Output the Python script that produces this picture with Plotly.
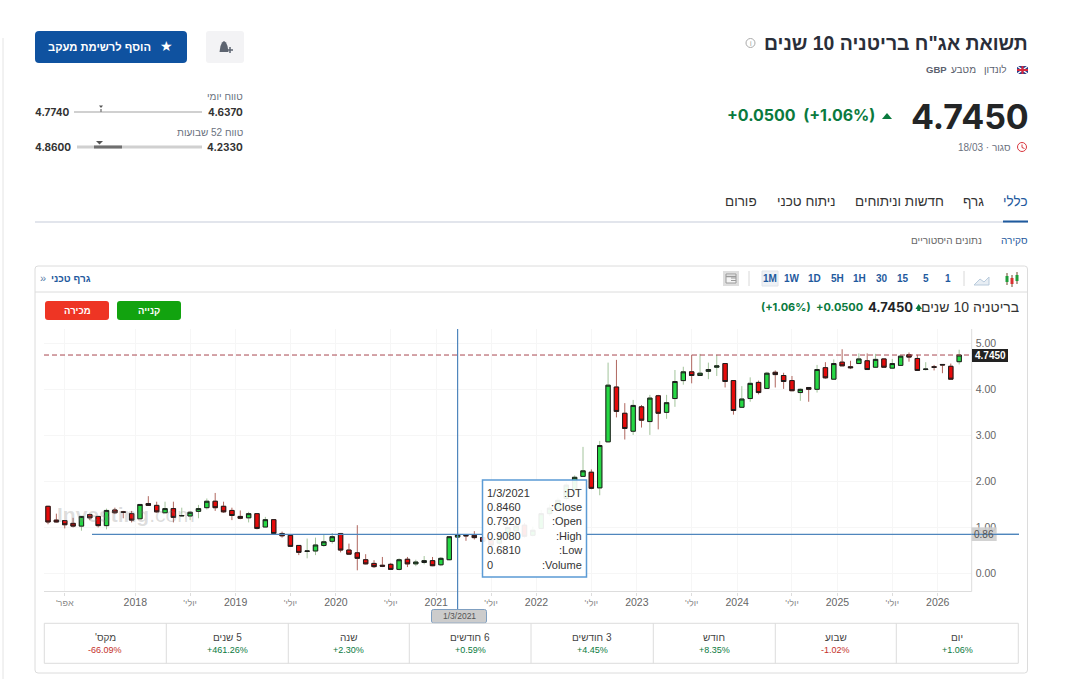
import plotly.graph_objects as go

W, H = 1091, 679
SANS = "Liberation Sans"
INTER = "Inter"
GREEN = "#0a7a3e"
RED = "#c4302b"
BLUE = "#1f5a9e"
GREY = "#666666"
BORDER = "#dcdcdc"
CROSS = "#4f86bd"

# monthly candles, Feb 2017 to Mar 2026
opens = [1.46, 1.16, 1.15, 1.09, 1.03, 1.28, 1.24, 1.04, 1.38, 1.34, 1.30, 1.19,
         1.52, 1.48, 1.32, 1.41, 1.25, 1.25, 1.35, 1.43, 1.57, 1.46, 1.37, 1.24,
         1.21, 1.30, 1.01, 1.17, 0.87, 0.83, 0.61, 0.48, 0.49, 0.61, 0.70, 0.87,
         0.51, 0.45, 0.30, 0.22, 0.18, 0.20, 0.09, 0.31, 0.21, 0.24, 0.28, 0.19,
         0.30, 0.792, 0.83, 0.83, 0.78, 0.72, 0.66, 0.83, 0.93, 1.05, 0.83, 0.98,
         1.30, 1.41, 1.63, 1.81, 2.11, 2.20, 1.86, 2.86, 4.05, 3.48, 3.09, 3.62,
         3.30, 3.86, 3.50, 3.80, 4.19, 4.38, 4.30, 4.39, 4.48, 4.56, 4.19, 3.61,
         3.80, 4.15, 4.02, 4.37, 4.30, 4.19, 3.93, 4.04, 4.00, 4.47, 4.22, 4.59,
         4.49, 4.56, 4.62, 4.48, 4.66, 4.46, 4.52, 4.75, 4.67, 4.43, 4.49, 4.54,
         4.50, 4.60]
closes = [1.12, 1.12, 1.06, 1.03, 1.24, 1.21, 1.04, 1.37, 1.32, 1.33, 1.16, 1.50,
          1.48, 1.34, 1.41, 1.22, 1.26, 1.33, 1.41, 1.57, 1.43, 1.34, 1.26, 1.20,
          1.30, 0.98, 1.17, 0.87, 0.82, 0.59, 0.46, 0.49, 0.62, 0.69, 0.80, 0.51,
          0.42, 0.33, 0.21, 0.15, 0.16, 0.09, 0.30, 0.21, 0.25, 0.28, 0.17, 0.33,
          0.80, 0.846, 0.82, 0.78, 0.70, 0.62, 0.80, 1.00, 1.03, 0.81, 0.94, 1.30,
          1.42, 1.59, 1.92, 2.09, 2.23, 1.85, 2.78, 4.09, 3.52, 3.15, 3.65, 3.33,
          3.81, 3.48, 3.71, 4.17, 4.38, 4.30, 4.35, 4.43, 4.51, 4.17, 3.54, 3.79,
          4.13, 3.93, 4.35, 4.32, 4.17, 3.97, 4.00, 4.00, 4.43, 4.25, 4.56, 4.51,
          4.47, 4.66, 4.43, 4.65, 4.48, 4.56, 4.72, 4.70, 4.41, 4.44, 4.48, 4.53,
          4.22, 4.745]
highs = [1.47, 1.30, 1.15, 1.21, 1.24, 1.30, 1.24, 1.41, 1.43, 1.36, 1.36, 1.50,
         1.68, 1.56, 1.56, 1.56, 1.43, 1.36, 1.49, 1.63, 1.75, 1.56, 1.43, 1.37,
         1.34, 1.30, 1.23, 1.18, 0.91, 0.85, 0.61, 0.76, 0.78, 0.85, 0.88, 0.88,
         0.65, 1.05, 0.42, 0.29, 0.36, 0.23, 0.33, 0.36, 0.30, 0.38, 0.36, 0.36,
         0.80, 0.908, 0.85, 0.92, 0.81, 0.78, 0.85, 1.05, 1.10, 1.10, 1.02, 1.38,
         1.50, 1.65, 1.98, 2.13, 2.75, 2.26, 2.88, 4.58, 4.64, 3.70, 3.77, 3.66,
         3.88, 3.88, 3.88, 4.42, 4.49, 4.75, 4.77, 4.58, 4.75, 4.56, 4.19, 4.07,
         4.26, 4.19, 4.38, 4.41, 4.36, 4.29, 4.02, 4.04, 4.53, 4.59, 4.65, 4.87,
         4.62, 4.78, 4.78, 4.77, 4.67, 4.66, 4.74, 4.80, 4.75, 4.59, 4.53, 4.54,
         4.56, 4.86]
lows = [1.07, 1.11, 0.98, 1.00, 0.93, 1.16, 1.00, 0.96, 1.29, 1.20, 1.11, 1.19,
        1.47, 1.32, 1.31, 1.11, 1.24, 1.16, 1.20, 1.39, 1.36, 1.32, 1.16, 1.18,
        1.11, 0.96, 1.01, 0.87, 0.78, 0.58, 0.40, 0.33, 0.40, 0.58, 0.65, 0.46,
        0.41, 0.07, 0.20, 0.12, 0.14, 0.09, 0.07, 0.14, 0.16, 0.20, 0.16, 0.16,
        0.29, 0.681, 0.71, 0.74, 0.65, 0.58, 0.62, 0.80, 0.85, 0.78, 0.80, 0.96,
        1.25, 1.38, 1.58, 1.75, 2.10, 1.83, 1.70, 2.85, 3.39, 2.91, 3.01, 3.17,
        3.01, 3.13, 3.36, 3.62, 4.10, 4.13, 4.30, 4.22, 4.29, 4.04, 3.45, 3.60,
        3.73, 3.89, 4.01, 4.04, 4.01, 3.96, 3.75, 3.73, 3.93, 4.23, 4.22, 4.51,
        4.44, 4.55, 4.43, 4.47, 4.47, 4.45, 4.51, 4.60, 4.40, 4.41, 4.41, 4.35,
        4.22, 4.54]

y_ticks = [0, 1, 2, 3, 4, 5]
year_labels = ["2018", "2019", "2020", "2021", "2022", "2023", "2024", "2025", "2026"]

change_labels = ["יום", "שבוע", "חודש", "\u200f3 חודשים", "\u200f6 חודשים", "שנה", "\u200f5 שנים", "\u200fמקס'\u200f"]
change_values = ["+1.06%", "-1.02%", "+8.35%", "+4.45%", "+0.59%", "+2.30%", "+461.26%", "-66.09%"]
change_edges = [1018.3, 896.3, 775.3, 653.3, 531, 409.3, 288.3, 166.3, 44.3]

intervals = ["1M", "1W", "1D", "5H", "1H", "30", "15", "5", "1"]
interval_x = [770, 792, 814, 837, 859, 882, 903, 926, 948]

tooltip_names = [":DT", ":Close", ":Open", ":High", ":Low", ":Volume"]
tooltip_values = ["1/3/2021", "0.8460", "0.7920", "0.9080", "0.6810", "0"]

idx = list(range(len(opens)))
cross_idx = 49
cross_value = 0.85
last_close = closes[-1]

# x ticks: july sits on its candle, the year label a bit before january's candle
MONTH_TICK = "<span style='font-size:9px;color:#888'>\u200f%s'\u200f</span>"
tick_vals = [2.0]
tick_text = [MONTH_TICK % "אפר"]
for k, year in enumerate(year_labels):
    tick_vals.append(10.44 + 12 * k)
    tick_text.append(year)
    if k < len(year_labels) - 1:
        tick_vals.append(17 + 12 * k)
        tick_text.append(MONTH_TICK % "יולי")


def px(x):
    return x / W


def py(y):
    return 1 - y / H


shapes = []
annotations = []


def rect(x0, y0, x1, y1, fill="rgba(0,0,0,0)", line=None, width=1, r=0):
    lc = line if line else "rgba(0,0,0,0)"
    if r == 0:
        shapes.append(dict(type="rect", xref="paper", yref="paper", x0=px(x0), x1=px(x1),
                           y0=py(y1), y1=py(y0), fillcolor=fill,
                           line=dict(color=lc, width=width), layer="above"))
        return
    p = (f"M {px(x0 + r)} {py(y0)} L {px(x1 - r)} {py(y0)} Q {px(x1)} {py(y0)} {px(x1)} {py(y0 + r)} "
         f"L {px(x1)} {py(y1 - r)} Q {px(x1)} {py(y1)} {px(x1 - r)} {py(y1)} "
         f"L {px(x0 + r)} {py(y1)} Q {px(x0)} {py(y1)} {px(x0)} {py(y1 - r)} "
         f"L {px(x0)} {py(y0 + r)} Q {px(x0)} {py(y0)} {px(x0 + r)} {py(y0)} Z")
    shapes.append(dict(type="path", xref="paper", yref="paper", path=p, fillcolor=fill,
                       line=dict(color=lc, width=width), layer="above"))


def line(x0, y0, x1, y1, color=BORDER, width=1, dash="solid"):
    shapes.append(dict(type="line", xref="paper", yref="paper", x0=px(x0), x1=px(x1),
                       y0=py(y0), y1=py(y1), line=dict(color=color, width=width, dash=dash),
                       layer="above"))


def poly(points, fill="rgba(0,0,0,0)", color=None, width=1, close=True):
    p = "M " + " L ".join(f"{px(a)} {py(b)}" for a, b in points)
    if close:
        p += " Z"
    shapes.append(dict(type="path", xref="paper", yref="paper", path=p, fillcolor=fill,
                       line=dict(color=color if color else "rgba(0,0,0,0)", width=width),
                       layer="above"))


def circle(cx, cy, r, color, fill="rgba(0,0,0,0)", width=1):
    shapes.append(dict(type="circle", xref="paper", yref="paper", x0=px(cx - r), x1=px(cx + r),
                       y0=py(cy + r), y1=py(cy - r), fillcolor=fill,
                       line=dict(color=color, width=width), layer="above"))


def label(x, y, text, size=10, color=GREY, anchor="center", bold=False, font=SANS):
    if bold:
        text = f"<b>{text}</b>"
    annotations.append(dict(xref="paper", yref="paper", x=px(x), y=py(y), text=text,
                            showarrow=False, xanchor=anchor, yanchor="middle", borderpad=0,
                            borderwidth=0, font=dict(family=font, size=size, color=color)))


# page header
line(3, 38, 3, 679, "#e4e4e4")
label(1028, 43, 'תשואת אג"ח בריטניה 10 שנים', 19.4, "#2a2e39", "right", True)
circle(750.5, 43, 4.5, "#aaaaaa")
label(750.5, 43, "i", 7, "#999999")
rect(1017, 66, 1028, 74, "#27408b")
poly([(1017, 66), (1028, 74)], color="#ffffff", width=1.5, close=False)
poly([(1017, 74), (1028, 66)], color="#ffffff", width=1.5, close=False)
line(1022.5, 66, 1022.5, 74, "#d8283c", 2)
line(1017, 70, 1028, 70, "#d8283c", 2)
label(1007, 70, "לונדון", 10, "#5b616e", "right")
label(976, 70, "מטבע", 10, "#5b616e", "right")
label(947, 70, "GBP", 9.5, "#5b616e", "right", True)
label(1028.5, 116, "4.7450", 34, "#232526", "right", True, INTER)
label(875, 114.5, "+0.0500&nbsp;&nbsp;(+1.06%)", 16, GREEN, "right", True, INTER)
poly([(882, 119), (892, 119), (887, 113)], GREEN)
label(1011, 147, "18/03 · סגור", 10, "#6b7280", "right")
circle(1022, 147, 4.5, "#d9363e")
poly([(1022, 144.5), (1022, 147.5), (1024.5, 148.5)], color="#d9363e", close=False)

rect(35, 31, 187, 63, "#0f52a0", r=4)
label(151, 47, "הוסף לרשימת מעקב", 11.2, "#ffffff", "right", True)
label(166, 46.5, "★", 14, "#ffffff", font="DejaVu Sans")
rect(206, 31, 244, 63, "#f3f3f5", r=3)
poly([(219.5, 52), (220.5, 46), (222, 42.5), (224, 41), (226, 42.5), (227.5, 46), (228.5, 52)], "#5d6470")
poly([(227, 50), (233, 50)], color="#5d6470", width=1.5, close=False)
poly([(230, 47), (230, 53)], color="#5d6470", width=1.5, close=False)

label(242.5, 97, "טווח יומי", 10, "#6b7280", "right")
label(35, 112, "4.7740", 10, "#333333", "left", True, INTER)
label(243, 112, "4.6370", 10, "#333333", "right", True, INTER)
line(74, 112, 202, 112, "#d0d0d0", 2)
poly([(99, 105.5), (103, 105.5), (101, 108)], "#555555")
line(101, 109, 101, 112, "#888888", 1.5)
label(242.5, 132.5, "טווח 52 שבועות", 10, "#6b7280", "right")
label(35, 147, "4.8600", 10, "#333333", "left", True, INTER)
label(243, 147, "4.2330", 10, "#333333", "right", True, INTER)
line(77, 147, 202, 147, "#d0d0d0", 3)
line(94, 147, 122, 147, "#6f6f6f", 3)
poly([(96, 141), (103, 141), (99.5, 144.5)], "#555555")

# tabs
tab_names = ["כללי", "גרף", "חדשות וניתוחים", "ניתוח טכני", "פורום"]
tab_right = [1028, 984, 944, 836, 757]
for name, x in zip(tab_names, tab_right):
    label(x, 201, name, 13.5, BLUE if name == "כללי" else "#333333", "right")
line(35, 222, 1028, 222, "#d8dde6", 1.5)
line(1003, 221.5, 1028, 221.5, BLUE, 2)
label(1028, 240, "סקירה", 10, BLUE, "right")
label(982, 240, "נתונים היסטוריים", 10, GREY, "right")

# chart card and toolbar
rect(35, 266, 1027.5, 673, line=BORDER, r=3)
line(35, 292, 1027.5, 292, BORDER)
label(91, 278, "גרף טכני", 10, BLUE, "right", True)
label(43, 278, "»", 11, "#5b7ea8")
rect(723, 271, 739, 286, "#dedede")
rect(726, 274, 736, 283, "#f4f4f4", "#9a9a9a")
line(726, 276.5, 736, 276.5, "#9a9a9a", 1.5)
line(731, 278, 736, 278, "#9a9a9a")
line(731, 280.5, 736, 280.5, "#9a9a9a")
line(749, 271, 749, 286, "#d8d8d8")
rect(762, 271, 778, 286, "#eef1f5", "#e0e4ea")
for name, x in zip(intervals, interval_x):
    label(x, 278, name, 10, BLUE, bold=True)
line(964, 271, 964, 286, "#d8d8d8")
poly([(974, 285), (980, 279), (984, 282), (989, 277), (989, 285)], "#e8eef4", "#b9cbdc")
for cx, c, top, bot in [(1007, "#1f9e3a", 276, 282), (1012, "#d93030", 278, 284), (1017, "#1f9e3a", 275, 281)]:
    line(cx, top - 3, cx, bot + 3, "#6b4a2a")
    rect(cx - 1.5, top, cx + 1.5, bot, c)

label(1019, 307, "בריטניה 10 שנים", 14, "#333333", "right")
poly([(915.5, 309), (922, 309), (918.7, 304)], GREEN)
line(918.7, 308, 918.7, 311, GREEN, 3)
label(912.5, 307, "4.7450", 13, "#232526", "right", True, INTER)
label(863, 307.5, "+0.0500", 11, GREEN, "right", True, INTER)
label(810.5, 307.5, "(+1.06%)", 11, GREEN, "right", True, INTER)
rect(117, 301, 181, 320, "#12a30f", r=3)
label(149, 310.5, "קנייה", 9.5, "#ffffff", bold=True)
rect(45, 301, 109, 320, "#ee3524", r=3)
label(77, 310.5, "מכירה", 9.5, "#ffffff", bold=True)

# plot frame, last price and crosshair
line(44, 591.5, 971.7, 591.5, "#dddddd")
line(971.7, 329, 971.7, 591.5, "#dddddd")
annotations.append(dict(xref="paper", yref="paper", x=px(55), y=py(514), text="<b>Investing</b>.com",
                        showarrow=False, xanchor="left", yanchor="middle",
                        font=dict(family=SANS, size=21, color="rgba(120,120,120,0.25)")))
shapes.append(dict(type="line", xref="paper", yref="y", x0=px(44), x1=px(971.7), y0=last_close,
                   y1=last_close, line=dict(color="#a8474f", width=1, dash="5px,3px"), layer="above"))
rect(972, 349, 1008, 362, "#222222")
label(990, 355.5, "4.7450", 10, "#ffffff", bold=True)

# tooltip sits over the candles
rect(482.5, 480, 586.5, 577, "rgba(255,255,255,0.92)", "#5b9bd5", 1.5)
for i, (name, val) in enumerate(zip(tooltip_names, tooltip_values)):
    y = 492.5 + i * 14.4
    label(487, y, val, 11, "#333333", "left")
    label(581.5, y, name, 11, "#333333", "right")

shapes.append(dict(type="line", xref="paper", yref="y", x0=px(92), x1=px(482), y0=cross_value,
                   y1=cross_value, line=dict(color=CROSS, width=1.2), layer="above"))
shapes.append(dict(type="line", xref="paper", yref="y", x0=px(587), x1=px(1019), y0=cross_value,
                   y1=cross_value, line=dict(color=CROSS, width=1.2), layer="above"))
shapes.append(dict(type="line", xref="x", yref="paper", x0=cross_idx, x1=cross_idx, y0=py(329),
                   y1=py(609), line=dict(color=CROSS, width=1.2), layer="above"))
rect(971.7, 527.3, 996.7, 541, "rgba(205,205,205,0.9)")
label(984, 534.5, "0.86", 10, "#555555")
line(971.7, 534.4, 1019, 534.4, CROSS, 1.2)
rect(431.5, 609.5, 486.5, 623, "#cccccc", "#7f9fc0", 1, r=2)
label(459, 616, "1/3/2021", 8.5, "#555555")

# change table
rect(44.3, 623.3, 1018.3, 663.3, line=BORDER)
for x in change_edges[1:-1]:
    line(x, 623.3, x, 663.3, BORDER)
for i, (name, val) in enumerate(zip(change_labels, change_values)):
    cx = (change_edges[i] + change_edges[i + 1]) / 2
    label(cx, 637, name, 10, "#444444")
    label(cx, 650, val, 9, RED if val.startswith("-") else GREEN)

fig = go.Figure()
# wicks first, pale; bodies on top with a dark outline
fig.add_trace(go.Candlestick(
    x=idx, open=opens, high=highs, low=lows, close=closes,
    increasing=dict(line=dict(color="#a3c49c", width=1), fillcolor="#a3c49c"),
    decreasing=dict(line=dict(color="#b0675f", width=1), fillcolor="#b0675f"),
    whiskerwidth=0, hoverinfo="skip", showlegend=False))
fig.add_trace(go.Candlestick(
    x=idx, open=opens, close=closes,
    high=[max(o, c) for o, c in zip(opens, closes)],
    low=[min(o, c) for o, c in zip(opens, closes)],
    increasing=dict(line=dict(color="#1d1d1d", width=1), fillcolor="#26d844"),
    decreasing=dict(line=dict(color="#1d1d1d", width=1), fillcolor="#e60a0a"),
    whiskerwidth=0, hoverinfo="skip", showlegend=False))

fig.update_layout(
    width=W, height=H,
    margin=dict(l=0, r=0, t=0, b=0),
    paper_bgcolor="#ffffff",
    plot_bgcolor="#ffffff",
    showlegend=False,
    boxgap=0.25,
    shapes=shapes,
    annotations=annotations,
    xaxis=dict(domain=[px(44), px(971.7)], range=[-0.48, 110.5], rangeslider=dict(visible=False),
               tickmode="array", tickvals=tick_vals, ticktext=tick_text, tickangle=0,
               ticks="outside", ticklen=3, tickcolor="#dddddd", showgrid=True, gridcolor="#f6f6f6",
               zeroline=False, showline=False, ticklabelstandoff=-2,
               tickfont=dict(family=SANS, size=10.5, color="#666666")),
    yaxis=dict(domain=[py(591.5), py(329)], range=[-0.39, 5.31], side="right",
               tickmode="array", tickvals=y_ticks, tickformat=".2f", ticks="", ticklabelstandoff=3,
               showgrid=True, gridcolor="#f6f6f6", zeroline=False, showline=False,
               tickfont=dict(family=SANS, size=10.5, color="#666666")),
)

fig.write_html("out.html", config={"displayModeBar": False},
               post_script="document.body.style.margin='0';")
